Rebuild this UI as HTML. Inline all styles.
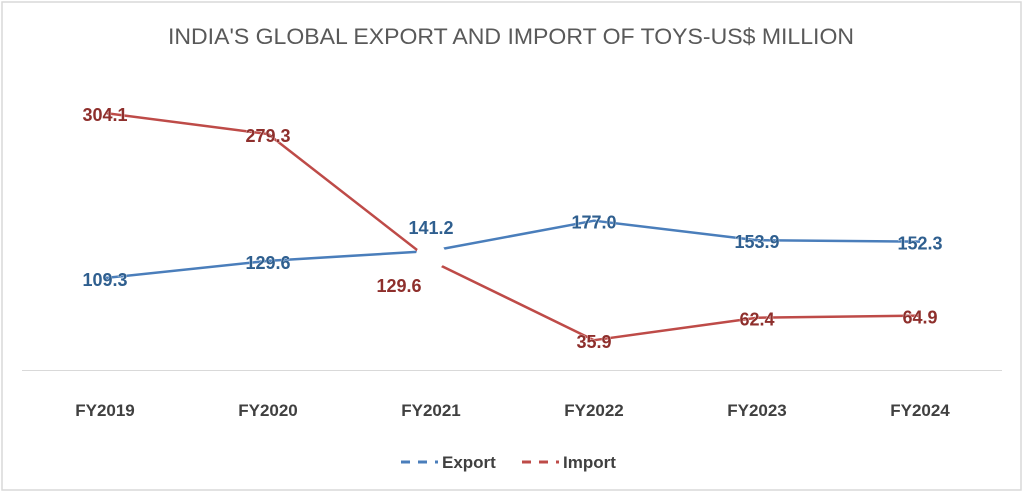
<!DOCTYPE html>
<html><head><meta charset="utf-8"><style>
html,body{margin:0;padding:0;background:#fff;}
svg{display:block;font-family:"Liberation Sans",sans-serif;}
</style></head><body>
<svg id="chart" width="1024" height="493" viewBox="0 0 1024 493">
<rect x="2" y="2" width="1019" height="488" fill="#fff" stroke="#d9d9d9" stroke-width="1.5"/>
<text x="511" y="44" text-anchor="middle" font-size="22" fill="#595959" textLength="686" lengthAdjust="spacingAndGlyphs">INDIA'S GLOBAL EXPORT AND IMPORT OF TOYS-US$ MILLION</text>
<line x1="22" y1="370.5" x2="1002" y2="370.5" stroke="#d9d9d9" stroke-width="1"/>
<g id="xlabels"></g>
<g id="lines"></g>
<g id="labels"></g>
<g>
<g>
<line x1="401" y1="462" x2="438" y2="462" stroke="#4a7ebb" stroke-width="3" stroke-dasharray="9,8"/>
<text x="442" y="468" font-size="17" font-weight="bold" fill="#404040">Export</text>
</g>
<g>
<line x1="522" y1="462" x2="559" y2="462" stroke="#be4b48" stroke-width="3" stroke-dasharray="9,8"/>
<text x="563" y="468" font-size="17" font-weight="bold" fill="#404040">Import</text>
</g>
</g>
</svg>
<script>
const categories = ["FY2019","FY2020","FY2021","FY2022","FY2023","FY2024"];
const exportValues = [109.3,129.6,141.2,177.0,153.9,152.3];
const importValues = [304.1,279.3,129.6,35.9,62.4,64.9];

const NS = "http://www.w3.org/2000/svg";
function xScale(i){ return 105 + i * 163; }
function yScale(v){ return 370.6 - v * 0.847; }
function mk(tag, attrs, parent){
  const e = document.createElementNS(NS, tag);
  for (const k in attrs) e.setAttribute(k, attrs[k]);
  parent.appendChild(e);
  return e;
}
const xl = document.getElementById('xlabels');
categories.forEach((c,i)=>{
  const t = mk('text',{x:xScale(i),y:416,'text-anchor':'middle','font-size':17,'font-weight':'bold',fill:'#404040'},xl);
  
  
  t.textContent = c;
});
const lg = document.getElementById('lines');
function drawLine(vals, color, name){
  const pts = vals.map((v,i)=>xScale(i)+','+yScale(v)).join(' ');
  const p = mk('polyline',{points:pts,fill:'none',stroke:color,'stroke-width':2.5,'stroke-linejoin':'round'},lg);
  
  
}
drawLine(exportValues,'#4a7ebb','export-line');
drawLine(importValues,'#be4b48','import-line');
// white gap at crossing near FY2021
const gap = mk('circle',{cx:xScale(2),cy:(yScale(exportValues[2])+yScale(importValues[2]))/2,r:15,fill:'#fff'},lg);



const lb = document.getElementById('labels');
const expOff = [[0,8],[0,8],[0,-17],[0,8],[0,8],[0,8]];
const impOff = [[0,8],[0,8],[-32,31],[0,8],[0,8],[0,8]];
function drawLabels(vals, offs, color, name){
  vals.forEach((v,i)=>{
    const t = mk('text',{x:xScale(i)+offs[i][0],y:yScale(v)+offs[i][1],'text-anchor':'middle','font-size':18,'font-weight':'bold',fill:color,stroke:'#ffffff','stroke-width':0.6,'paint-order':'stroke'},lb);
    
    
    t.textContent = v.toFixed(1);
  });
}
drawLabels(exportValues, expOff, '#2f5f8f', 'export-value-label');
drawLabels(importValues, impOff, '#8e2f2c', 'import-value-label');
</script>
</body></html>
